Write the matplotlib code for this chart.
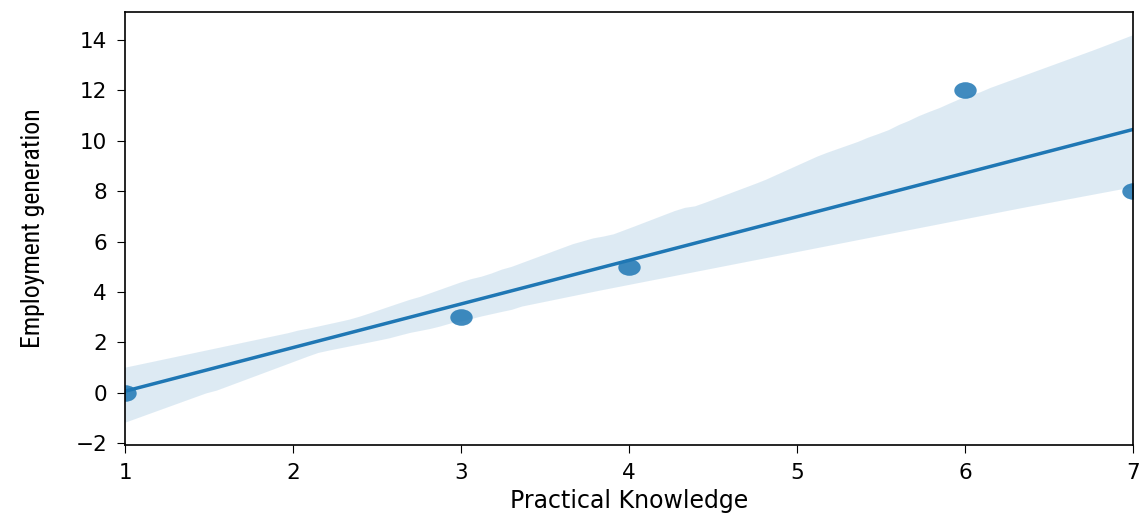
import matplotlib
matplotlib.use('Agg')
import matplotlib.pyplot as plt
from matplotlib.path import Path
from matplotlib.transforms import Affine2D
import seaborn as sns
import pandas as pd

practical_knowledge = [1, 3, 4, 6, 7]
employment_generation = [0, 3, 5, 12, 8]

df = pd.DataFrame({'Practical Knowledge': practical_knowledge,
                   'Employment generation': employment_generation})

# the source image is stretched sideways, so the dots are slightly oval
oval = Path.unit_circle().transformed(Affine2D().scale(1.35, 1.0))

fig, ax = plt.subplots(figsize=(11.42, 5.15), dpi=100)

sns.regplot(x='Practical Knowledge', y='Employment generation', data=df, ax=ax,
            ci=80, seed=56, marker=oval,
            scatter_kws={'s': 260, 'alpha': 0.85, 'linewidths': 0},
            line_kws={'linewidth': 2.5})

ax.set_xlim(1, 7)
ax.set_ylim(-2.06, 15.1)
ax.tick_params(labelsize=15.5, length=6, pad=7)
ax.set_xlabel('Practical Knowledge', fontsize=17)
ax.set_ylabel('Employment generation', fontsize=18.5, labelpad=22,
              family=['Roboto Condensed', 'DejaVu Sans'])

for s in ax.spines.values():
    s.set_linewidth(1.2)

fig.subplots_adjust(left=0.1095, right=0.992, top=0.977, bottom=0.136)
plt.savefig('out.png', dpi=100)
